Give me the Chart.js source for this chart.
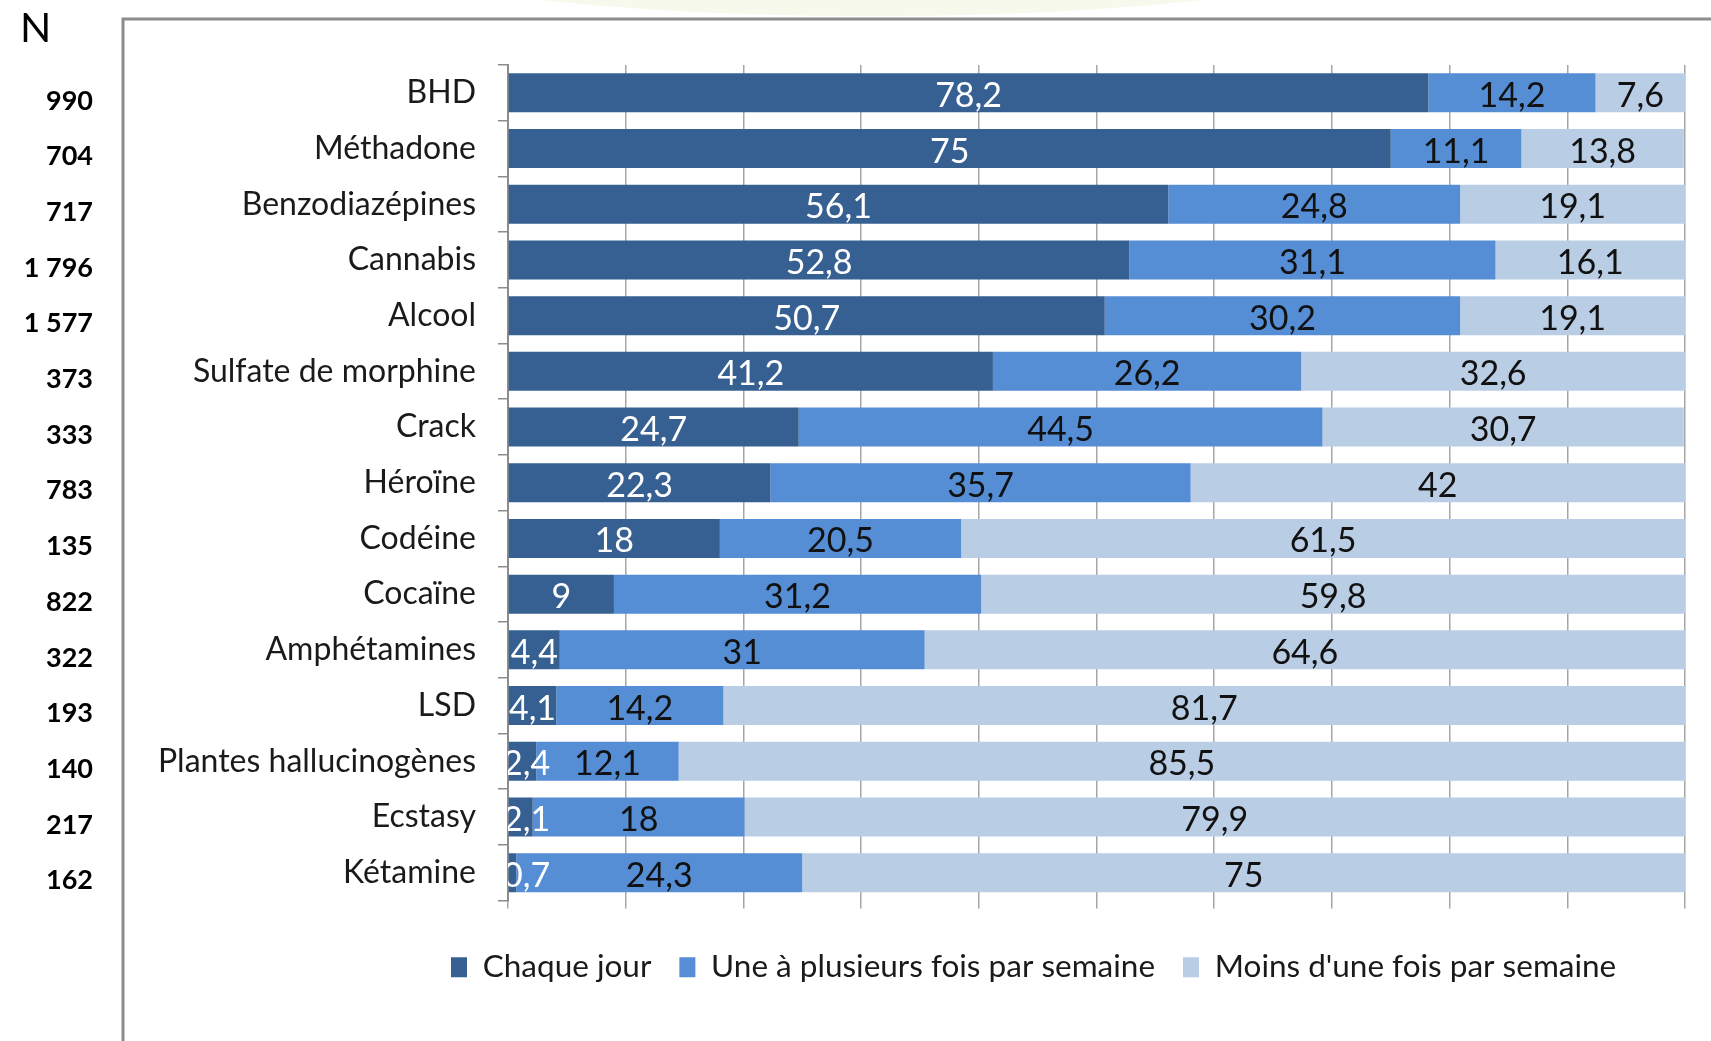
<!DOCTYPE html>
<html lang="fr">
<head>
    <meta charset="UTF-8">
    <title>Fréquence d'usage par produit</title>
    <script src="https://cdn.jsdelivr.net/npm/chart.js@4"></script>
    <style>
        html, body { margin: 0; padding: 0; background: #fff; }
        #wrap { width: 1711px; height: 1041px; position: relative; }
    </style>
</head>
<body>
    <div id="wrap">
        <canvas id="freqChart" width="1711" height="1041"></canvas>
    </div>

    <script>
        // données
        const produits = ['BHD', 'Méthadone', 'Benzodiazépines', 'Cannabis', 'Alcool', 'Sulfate de morphine',
            'Crack', 'Héroïne', 'Codéine', 'Cocaïne', 'Amphétamines', 'LSD', 'Plantes hallucinogènes', 'Ecstasy', 'Kétamine'];
        const effectifs = ['990', '704', '717', '1 796', '1 577', '373', '333', '783', '135', '822', '322', '193', '140', '217', '162'];
        const chaqueJour = [78.2, 75, 56.1, 52.8, 50.7, 41.2, 24.7, 22.3, 18, 9, 4.4, 4.1, 2.4, 2.1, 0.7];
        const parSemaine = [14.2, 11.1, 24.8, 31.1, 30.2, 26.2, 44.5, 35.7, 20.5, 31.2, 31, 14.2, 12.1, 18, 24.3];
        const moinsSemaine = [7.6, 13.8, 19.1, 16.1, 19.1, 32.6, 30.7, 42, 61.5, 59.8, 64.6, 81.7, 85.5, 79.9, 75];
        const legendes = ['Chaque jour', 'Une à plusieurs fois par semaine', "Moins d'une fois par semaine"];

        const FONT = "Lato, 'Liberation Sans', sans-serif";
        Chart.defaults.font.family = FONT;
        Chart.defaults.color = '#1a1a1a';

        // fond + cadre + colonne N
        const decorPlugin = {
            id: 'decor',
            beforeDraw(chart) {
                const ctx = chart.ctx;
                ctx.save();
                ctx.fillStyle = '#f6f9ec';
                ctx.beginPath();
                ctx.ellipse(872, -40, 470, 56, 0, 0, Math.PI * 2);
                ctx.fill();
                ctx.strokeStyle = '#8c8c8c';
                ctx.lineWidth = 3;
                ctx.beginPath();
                ctx.moveTo(123, 1041);
                ctx.lineTo(123, 19);
                ctx.lineTo(1711, 19);
                ctx.stroke();
                ctx.restore();
            },
            afterDraw(chart) {
                const ctx = chart.ctx;
                const y = chart.scales.y;
                ctx.save();
                ctx.fillStyle = '#000';
                ctx.font = "41px " + FONT;
                ctx.textBaseline = 'middle';
                ctx.fillText('N', 20, 29);
                ctx.font = "bold 27px " + FONT;
                ctx.textAlign = 'right';
                effectifs.forEach((n, i) => {
                    ctx.fillText(n, 93, y.getPixelForValue(i) + 8);
                });
                ctx.restore();
            }
        };

        // valeurs au centre des segments
        const valeursPlugin = {
            id: 'valeurs',
            afterDatasetsDraw(chart) {
                const ctx = chart.ctx;
                const area = chart.chartArea;
                ctx.save();
                ctx.beginPath();
                ctx.rect(area.left, area.top, area.right - area.left, area.bottom - area.top);
                ctx.clip();
                ctx.font = '34px ' + FONT;
                ctx.textAlign = 'center';
                ctx.textBaseline = 'middle';
                chart.data.datasets.forEach((ds, i) => {
                    const meta = chart.getDatasetMeta(i);
                    ctx.fillStyle = i === 0 ? '#ffffff' : '#111111';
                    meta.data.forEach((bar, j) => {
                        const txt = String(ds.data[j]).replace('.', ',');
                        const w = ctx.measureText(txt).width;
                        const cx = Math.max((bar.x + bar.base) / 2, area.left + w / 2 - 5);
                        ctx.fillText(txt, cx, bar.y + 3);
                    });
                });
                ctx.restore();
            }
        };

        // légende décalée comme dans l'original
        const legendePlugin = {
            id: 'legendePos',
            afterLayout(chart) {
                const lg = chart.legend;
                const pad = lg.options.labels.padding;
                lg.left = 451 - pad;
                lg.right = 2200;
            }
        };

        new Chart(document.getElementById('freqChart'), {
            type: 'bar',
            data: {
                labels: produits,
                datasets: [
                    { label: legendes[0], data: chaqueJour, backgroundColor: '#376092' },
                    { label: legendes[1], data: parSemaine, backgroundColor: '#558ed5' },
                    { label: legendes[2], data: moinsSemaine, backgroundColor: '#b9cde5' }
                ]
            },
            options: {
                indexAxis: 'y',
                responsive: false,
                animation: false,
                categoryPercentage: 1,
                barPercentage: 0.7,
                layout: { padding: { top: 65, right: 26, bottom: 48, left: 0 } },
                scales: {
                    x: {
                        stacked: true,
                        min: 0,
                        max: 100,
                        ticks: { display: false, stepSize: 10 },
                        grid: { color: '#a6a6a6', lineWidth: 1.5, tickLength: 8 },
                        border: { display: false },
                        afterFit(scale) { scale.height = 23; }
                    },
                    y: {
                        stacked: true,
                        ticks: { font: { size: 32 }, color: '#1a1a1a', padding: 22 },
                        grid: { offset: true, drawOnChartArea: false, color: '#8c8c8c', lineWidth: 1.5, tickLength: 10 },
                        border: { display: true, color: '#8c8c8c', width: 2 },
                        afterFit(scale) { scale.width = 508; }
                    }
                },
                plugins: {
                    tooltip: { enabled: false },
                    legend: {
                        position: 'bottom',
                        align: 'start',
                        labels: {
                            font: { size: 31.5 },
                            color: '#1a1a1a',
                            boxWidth: 16,
                            boxHeight: 20,
                            padding: 28
                        }
                    }
                }
            },
            plugins: [decorPlugin, valeursPlugin, legendePlugin]
        });
    </script>
</body>
</html>
